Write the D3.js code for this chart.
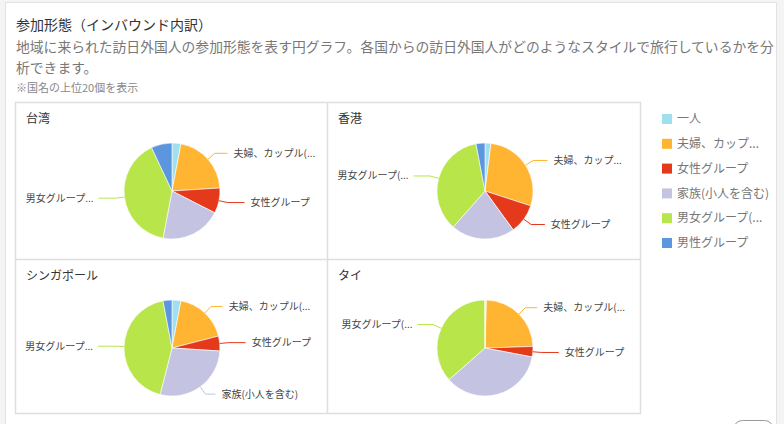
<!DOCTYPE html>
<html>
<head>
<meta charset="utf-8">
<script src="https://cdn.jsdelivr.net/npm/d3@7"></script>
<style>
  body { margin: 0; background: #f4f4f4; font-family: "Noto Sans CJK JP", "Noto Sans", sans-serif; }
  svg { display: block; }
</style>
</head>
<body>
<div id="chart"></div>
<script>
// categories (legend order = slice order, clockwise from 12 o'clock)
var categories = ["一人", "夫婦、カップ...", "女性グループ", "家族(小人を含む)", "男女グループ(...", "男性グループ"];
var colors = ["#a0dff0", "#ffb531", "#e5391b", "#c4c4e2", "#b8e54a", "#5c96de"];

var countries = ["台湾", "香港", "シンガポール", "タイ"];

// share per category (%)
var taiwan    = [3, 21, 8.5, 20.5, 40, 7];
var hongkong  = [2, 28, 10, 21.5, 35.5, 3];
var singapore = [3, 18, 5, 28, 43, 3];
var thailand  = [0.5, 24, 3.5, 35.5, 36.5, 0];

// data labels shown on each pie (null = not shown)
var taiwanLabels    = [null, "夫婦、カップル(...", "女性グループ", null, "男女グループ...", null];
var hongkongLabels  = [null, "夫婦、カップ...", "女性グループ", null, "男女グループ(...", null];
var singaporeLabels = [null, "夫婦、カップル(...", "女性グループ", "家族(小人を含む)", "男女グループ...", null];
var thailandLabels  = [null, "夫婦、カップル(...", "女性グループ", null, "男女グループ(...", null];

var series = [taiwan, hongkong, singapore, thailand];
var seriesLabels = [taiwanLabels, hongkongLabels, singaporeLabels, thailandLabels];

var W = 784, H = 424;
var svg = d3.select("#chart").append("svg").attr("width", W).attr("height", H);

/***************************
 * Card + header
 ***************************/
svg.append("rect").attr("x", 5.5).attr("y", 2.5).attr("width", 771).attr("height", 440)
    .attr("fill", "#fff").attr("stroke", "#e2e2e2");

svg.append("text").attr("x", 16).attr("y", 30).attr("font-size", 14).attr("fill", "#333")
    .text("参加形態（インバウンド内訳）");
var desc = ["地域に来られた訪日外国人の参加形態を表す円グラフ。各国からの訪日外国人がどのようなスタイルで旅行しているかを分", "析できます。"];
svg.selectAll(".desc").data(desc).enter().append("text")
    .attr("x", 16).attr("y", function(d, i) { return 52 + i * 21; })
    .attr("font-size", 13.8).attr("fill", "#777").text(function(d) { return d; });
svg.append("text").attr("x", 16).attr("y", 92).attr("font-size", 11).attr("fill", "#888")
    .text("※国名の上位20個を表示");

/***************************
 * Panels
 ***************************/
var gx = d3.scaleOrdinal().domain([0, 1]).range([15, 327]);
var gy = d3.scaleOrdinal().domain([0, 1]).range([102, 259]);
var panelW = [312, 314], panelH = [157, 155];

svg.append("rect").attr("x", 15.5).attr("y", 102.5).attr("width", 625).attr("height", 311)
    .attr("fill", "none").attr("stroke", "#dedede").attr("stroke-width", 1.5);
svg.append("line").attr("x1", 327.5).attr("x2", 327.5).attr("y1", 102).attr("y2", 414)
    .attr("stroke", "#dedede").attr("stroke-width", 1.5);
svg.append("line").attr("x1", 15).attr("x2", 641).attr("y1", 259.5).attr("y2", 259.5)
    .attr("stroke", "#dedede").attr("stroke-width", 1.5);

var r = 48;
var pie = d3.pie().sort(null).value(function(d) { return d; });
var arc = d3.arc().innerRadius(0).outerRadius(r);

series.forEach(function(values, k) {
    var col = k % 2, row = Math.floor(k / 2);
    var px = gx(col), py = gy(row);
    var cx = px + panelW[col] / 2 + 1, cy = py + 89;

    svg.append("text").attr("x", px + 11).attr("y", py + 21).attr("font-size", 12).attr("fill", "#333")
        .text(countries[k]);

    var g = svg.append("g").attr("transform", "translate(" + cx + "," + cy + ")");
    var arcs = pie(values);
    g.selectAll("path").data(arcs).enter().append("path")
        .attr("d", arc)
        .attr("fill", function(d, i) { return colors[i]; })
        .attr("stroke", "#fff").attr("stroke-width", 0.6);

    // labels with elbow connectors
    var labels = seriesLabels[k];
    arcs.forEach(function(d, i) {
        if (!labels[i]) return;
        var a = (d.startAngle + d.endAngle) / 2;
        var s = Math.sin(a), c = -Math.cos(a);
        var p0 = [r * s, r * c];
        var p1 = [(r + 9) * s, (r + 9) * c];
        var right = s >= 0;
        var ex = (r + 26) * s;
        if (Math.abs(ex) < Math.abs(p1[0]) + 8) ex = p1[0] + (right ? 8 : -8);
        g.append("path")
            .attr("d", "M" + p0 + "L" + p1 + "L" + [ex, p1[1]])
            .attr("fill", "none").attr("stroke", colors[i]).attr("stroke-width", 1);
        g.append("text")
            .attr("x", ex + (right ? 6 : -5)).attr("y", p1[1])
            .attr("dy", "0.35em")
            .attr("text-anchor", right ? "start" : "end")
            .attr("font-size", 10).attr("fill", "#444")
            .text(labels[i]);
    });
});

/***************************
 * Legend
 ***************************/
var ly = d3.scalePoint().domain(d3.range(categories.length)).range([119, 243]);
var leg = svg.selectAll(".leg").data(categories).enter().append("g")
    .attr("transform", function(d, i) { return "translate(662," + ly(i) + ")"; });
leg.append("rect").attr("x", 0).attr("y", -5).attr("width", 10).attr("height", 10)
    .attr("fill", function(d, i) { return colors[i]; });
leg.append("text").attr("x", 15).attr("dy", "0.35em").attr("font-size", 12).attr("fill", "#777")
    .text(function(d) { return d; });

// partially visible button at the bottom edge
svg.append("rect").attr("x", 733.5).attr("y", 420.5).attr("width", 40).attr("height", 22).attr("rx", 9)
    .attr("fill", "#fff").attr("stroke", "#999");
</script>
</body>
</html>
